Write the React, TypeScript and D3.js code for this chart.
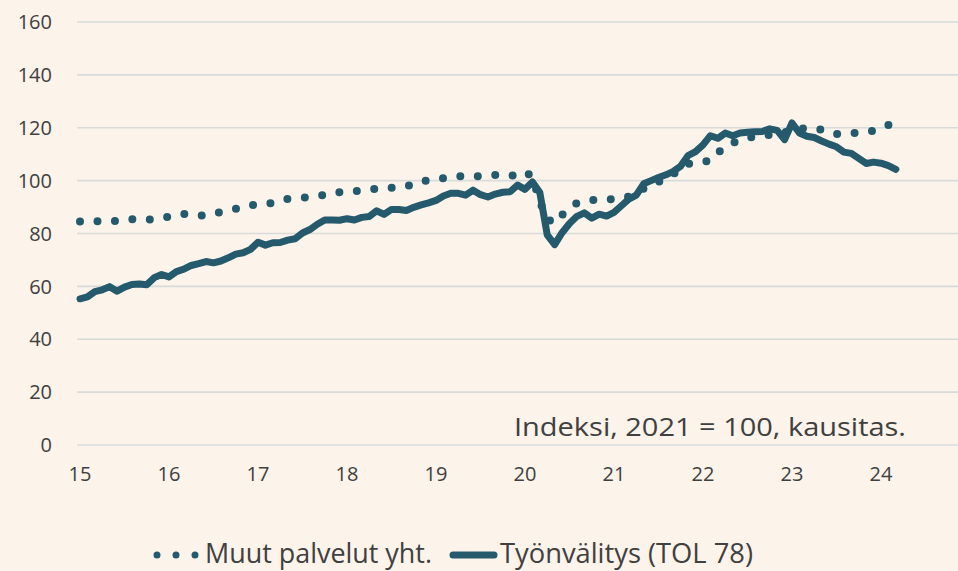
import React, { useEffect, useRef, useState } from "react";
import * as d3 from "d3";

// Monthly index values, Jan 2015 onward
const muutPalvelut: number[] = [
  84.5, 84.6, 84.7, 84.6, 84.5, 84.8, 85.1, 85.4, 85.3, 85.2, 85.5, 85.9,
  86.3, 86.8, 87.4, 87.0, 86.7, 86.9, 87.4, 88.2, 88.9, 89.3, 90.0, 90.7,
  90.9, 91.2, 91.6, 92.3, 93.1, 93.3, 93.5, 93.8, 94.1, 94.6, 95.2, 95.6,
  95.8, 96.0, 96.3, 96.6, 96.9, 97.1, 97.3, 97.6, 97.8, 98.8, 99.8, 100.1,
  100.4, 100.9, 101.4, 101.7, 101.6, 101.5, 101.7, 102.0, 102.1, 101.9, 101.7, 102.5,
  103.4, 101.5, 92.0, 85.5, 83.8, 87.0, 89.5, 91.5, 92.2, 92.6, 92.8, 92.9,
  93.0, 93.4, 94.0, 95.0, 97.0, 98.5, 99.6, 100.5, 102.5, 104.5, 106.3, 107.0,
  107.2, 107.5, 110.5, 113.0, 114.3, 115.3, 116.2, 116.7, 117.0, 117.3, 117.8, 118.3,
  118.9, 119.5, 120.0, 119.7, 119.3, 118.5, 117.6, 117.7, 117.9, 118.2, 118.5, 118.9,
  119.8, 121.0,
];

const tyonvalitys: number[] = [
  55.3, 56.0, 58.0, 58.7, 59.9, 58.2, 59.7, 60.7, 60.9, 60.6, 63.3, 64.5,
  63.6, 65.6, 66.5, 67.9, 68.6, 69.4, 68.9, 69.6, 70.8, 72.2, 72.7, 74.0,
  76.7, 75.6, 76.5, 76.6, 77.5, 78.0, 80.2, 81.5, 83.5, 85.1, 85.1, 85.0,
  85.6, 85.1, 86.1, 86.4, 88.6, 87.2, 89.1, 89.1, 88.7, 89.9, 90.8, 91.6,
  92.5, 94.2, 95.2, 95.2, 94.5, 96.4, 94.7, 93.8, 94.9, 95.6, 95.8, 98.3,
  96.7, 99.5, 95.5, 79.5, 75.8, 80.3, 83.8, 86.5, 87.8, 85.8, 87.3, 86.6,
  88.0, 90.5, 93.0, 94.5, 98.8, 100.0, 101.2, 102.2, 103.5, 105.5, 109.5, 111.0,
  113.5, 117.0, 116.0, 118.0, 117.0, 118.0, 118.3, 118.5, 118.6, 119.6, 119.0, 115.5,
  121.8, 118.0, 116.8, 116.3, 115.0, 113.8, 112.8, 110.8, 110.3, 108.4, 106.5, 107.0,
  106.6, 105.7, 104.3,
];

const yTicks: number[] = [0, 20, 40, 60, 80, 100, 120, 140, 160];
const xTickLabels: string[] = ["15", "16", "17", "18", "19", "20", "21", "22", "23", "24"];
const seriesNames: string[] = ["Muut palvelut yht.", "Työnvälitys (TOL 78)"];
const noteText = "Indeksi, 2021 = 100, kausitas.";

const W = 958;
const H = 571;
const COLOR = "#245a6b";
const BG = "#fcf3ea";
const GRID = "#d7dcdb";
const TEXT = "#404040";
const FONT = "'Open Sans', 'Noto Sans', sans-serif";
const DOT_GAP = 17.5;

export default function App() {
  const x = d3.scaleLinear().domain([0, 108]).range([80, 881]);
  const y = d3.scaleLinear().domain([0, 160]).range([445, 22]);
  const line = d3
    .line<number>()
    .x((_, i) => x(i))
    .y((d) => y(d));

  const dotRef = useRef<SVGPathElement>(null);
  const [gap, setGap] = useState(DOT_GAP);
  useEffect(() => {
    if (dotRef.current) {
      const L = dotRef.current.getTotalLength();
      const n = Math.max(1, Math.round(L / DOT_GAP));
      setGap(L / n);
    }
  }, []);

  return (
    <svg
      width={W}
      height={H}
      style={{ position: "absolute", left: 0, top: 0, display: "block" }}
    >
      <rect x={0} y={0} width={W} height={H} fill={BG} />
      {yTicks.map((t) => (
        <g key={t}>
          <line x1={77} x2={W} y1={y(t)} y2={y(t)} stroke={GRID} strokeWidth={1.6} />
          <text
            x={52}
            y={y(t)}
            dy="0.36em"
            textAnchor="end"
            fontFamily={FONT}
            fontSize={20}
            fill={TEXT}
          >
            {t}
          </text>
        </g>
      ))}
      {xTickLabels.map((lab, i) => (
        <text
          key={lab}
          x={x(i * 12)}
          y={474}
          dy="0.36em"
          textAnchor="middle"
          fontFamily={FONT}
          fontSize={20}
          fill={TEXT}
        >
          {lab}
        </text>
      ))}
      <text
        x={514}
        y={436}
        fontFamily={FONT}
        fontSize={25.5}
        textLength={392}
        lengthAdjust="spacingAndGlyphs"
        fill={TEXT}
      >
        {noteText}
      </text>
      <path
        ref={dotRef}
        d={line(muutPalvelut) ?? ""}
        fill="none"
        stroke={COLOR}
        strokeWidth={8}
        strokeLinecap="round"
        strokeDasharray={`0 ${gap}`}
      />
      <path
        d={line(tyonvalitys) ?? ""}
        fill="none"
        stroke={COLOR}
        strokeWidth={7}
        strokeLinecap="round"
        strokeLinejoin="round"
      />
      {/* Legend */}
      <g>
        <line
          x1={157}
          x2={196}
          y1={555}
          y2={555}
          stroke={COLOR}
          strokeWidth={7}
          strokeLinecap="round"
          strokeDasharray="0 19"
        />
        <text
          x={205}
          y={563}
          fontFamily={FONT}
          fontSize={27}
          textLength={227}
          lengthAdjust="spacingAndGlyphs"
          fill={TEXT}
        >
          {seriesNames[0]}
        </text>
        <line
          x1={453}
          x2={494}
          y1={555}
          y2={555}
          stroke={COLOR}
          strokeWidth={7}
          strokeLinecap="round"
        />
        <text
          x={500}
          y={563}
          fontFamily={FONT}
          fontSize={27}
          textLength={253}
          lengthAdjust="spacingAndGlyphs"
          fill={TEXT}
        >
          {seriesNames[1]}
        </text>
      </g>
    </svg>
  );
}
